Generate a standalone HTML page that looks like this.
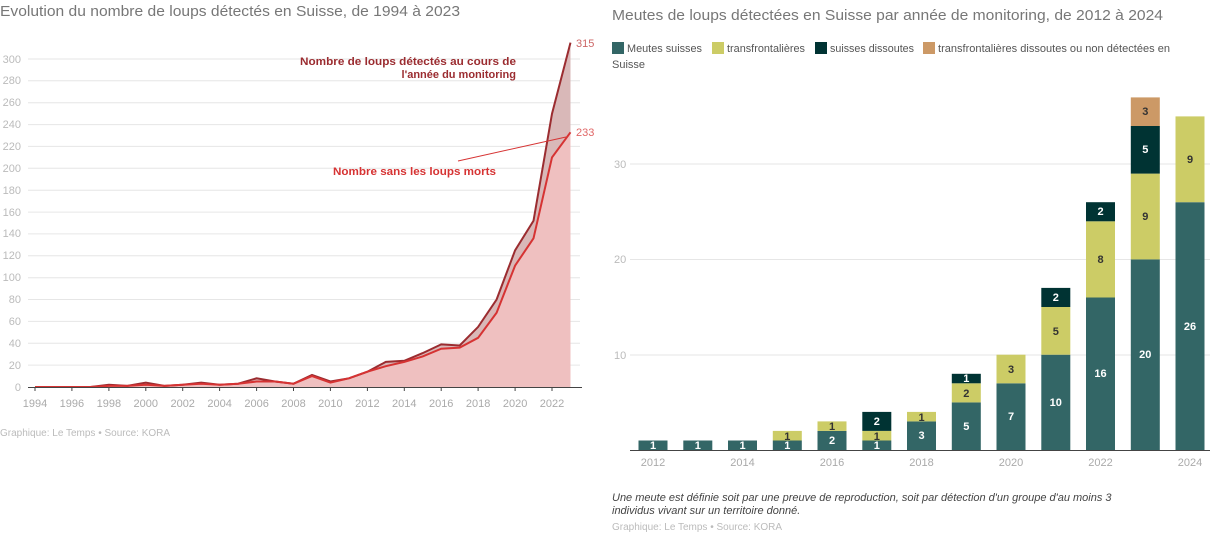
<!DOCTYPE html><html><head><meta charset="utf-8"><style>
body{margin:0;background:#fff;width:1232px;height:551px;overflow:hidden;font-family:"Liberation Sans",sans-serif}
</style></head><body>
<svg width="1232" height="551" xmlns="http://www.w3.org/2000/svg" font-family="Liberation Sans, sans-serif">
<text x="0" y="16" font-size="15" fill="#777" textLength="460" lengthAdjust="spacingAndGlyphs">Evolution du nombre de loups détectés en Suisse, de 1994 à 2023</text>
<g stroke="#e6e6e6" stroke-width="1">
<line x1="28" x2="580" y1="365.1" y2="365.1"/><line x1="28" x2="580" y1="343.3" y2="343.3"/><line x1="28" x2="580" y1="321.4" y2="321.4"/><line x1="28" x2="580" y1="299.5" y2="299.5"/><line x1="28" x2="580" y1="277.7" y2="277.7"/><line x1="28" x2="580" y1="255.8" y2="255.8"/><line x1="28" x2="580" y1="233.9" y2="233.9"/><line x1="28" x2="580" y1="212.1" y2="212.1"/><line x1="28" x2="580" y1="190.2" y2="190.2"/><line x1="28" x2="580" y1="168.3" y2="168.3"/><line x1="28" x2="580" y1="146.4" y2="146.4"/><line x1="28" x2="580" y1="124.6" y2="124.6"/><line x1="28" x2="580" y1="102.7" y2="102.7"/><line x1="28" x2="580" y1="80.8" y2="80.8"/><line x1="28" x2="580" y1="59" y2="59"/>
</g>
<g font-size="11" fill="#bbb" text-anchor="end">
<text x="21" y="391">0</text><text x="21" y="369">20</text><text x="21" y="347">40</text><text x="21" y="325">60</text><text x="21" y="303">80</text><text x="21" y="281">100</text><text x="21" y="259">120</text><text x="21" y="237">140</text><text x="21" y="216">160</text><text x="21" y="194">180</text><text x="21" y="172">200</text><text x="21" y="150">220</text><text x="21" y="128">240</text><text x="21" y="106">260</text><text x="21" y="84">280</text><text x="21" y="63">300</text>
</g>
<polygon fill="#d9b8b8" points="35,387 53.5,387 71.9,387 90.4,387 108.9,384.8 127.3,385.9 145.8,382.6 164.3,385.9 182.7,384.8 201.2,382.6 219.6,384.8 238.1,383.7 256.6,378.3 275,381.5 293.5,383.7 312,375 330.4,381.5 348.9,378.3 367.4,371.7 385.8,361.9 404.3,360.8 422.7,353.1 441.2,344.4 459.7,345.5 478.1,326.9 496.6,299.5 515.1,250.3 533.5,220.8 552,113.7 570.5,42.6 570.5,387"/>
<polygon fill="#efc0c0" points="35,387 53.5,387 71.9,387 90.4,387 108.9,385.9 127.3,385.9 145.8,384.8 164.3,385.9 182.7,384.8 201.2,383.7 219.6,384.8 238.1,383.7 256.6,381.5 275,381.5 293.5,383.7 312,376.1 330.4,382.6 348.9,378.3 367.4,371.7 385.8,366.2 404.3,361.9 422.7,356.4 441.2,348.7 459.7,347.6 478.1,337.8 496.6,312.7 515.1,265.6 533.5,238.3 552,157.4 570.5,132.3 570.5,387"/>
<polyline fill="none" stroke="#9b2c30" stroke-width="2" points="35,387 53.5,387 71.9,387 90.4,387 108.9,384.8 127.3,385.9 145.8,382.6 164.3,385.9 182.7,384.8 201.2,382.6 219.6,384.8 238.1,383.7 256.6,378.3 275,381.5 293.5,383.7 312,375 330.4,381.5 348.9,378.3 367.4,371.7 385.8,361.9 404.3,360.8 422.7,353.1 441.2,344.4 459.7,345.5 478.1,326.9 496.6,299.5 515.1,250.3 533.5,220.8 552,113.7 570.5,42.6"/>
<polyline fill="none" stroke="#d63333" stroke-width="2" points="35,387 53.5,387 71.9,387 90.4,387 108.9,385.9 127.3,385.9 145.8,384.8 164.3,385.9 182.7,384.8 201.2,383.7 219.6,384.8 238.1,383.7 256.6,381.5 275,381.5 293.5,383.7 312,376.1 330.4,382.6 348.9,378.3 367.4,371.7 385.8,366.2 404.3,361.9 422.7,356.4 441.2,348.7 459.7,347.6 478.1,337.8 496.6,312.7 515.1,265.6 533.5,238.3 552,157.4 570.5,132.3"/>
<line x1="28" x2="582" y1="387.5" y2="387.5" stroke="#444" stroke-width="1"/>
<g stroke="#444"><line x1="35" x2="35" y1="387" y2="391"/><line x1="71.9" x2="71.9" y1="387" y2="391"/><line x1="108.9" x2="108.9" y1="387" y2="391"/><line x1="145.8" x2="145.8" y1="387" y2="391"/><line x1="182.7" x2="182.7" y1="387" y2="391"/><line x1="219.6" x2="219.6" y1="387" y2="391"/><line x1="256.6" x2="256.6" y1="387" y2="391"/><line x1="293.5" x2="293.5" y1="387" y2="391"/><line x1="330.4" x2="330.4" y1="387" y2="391"/><line x1="367.4" x2="367.4" y1="387" y2="391"/><line x1="404.3" x2="404.3" y1="387" y2="391"/><line x1="441.2" x2="441.2" y1="387" y2="391"/><line x1="478.1" x2="478.1" y1="387" y2="391"/><line x1="515.1" x2="515.1" y1="387" y2="391"/><line x1="552" x2="552" y1="387" y2="391"/></g>
<g font-size="11" fill="#aaa" text-anchor="middle">
<text x="35" y="407">1994</text><text x="71.9" y="407">1996</text><text x="108.9" y="407">1998</text><text x="145.8" y="407">2000</text><text x="182.7" y="407">2002</text><text x="219.6" y="407">2004</text><text x="256.6" y="407">2006</text><text x="293.5" y="407">2008</text><text x="330.4" y="407">2010</text><text x="367.4" y="407">2012</text><text x="404.3" y="407">2014</text><text x="441.2" y="407">2016</text><text x="478.1" y="407">2018</text><text x="515.1" y="407">2020</text><text x="552" y="407">2022</text>
</g>
<text x="576" y="47" font-size="11" fill="#c66">315</text>
<text x="576" y="136" font-size="11" fill="#e06666">233</text>
<g font-size="11" font-weight="bold">
<text x="300" y="65" fill="#9b2c30" textLength="216" lengthAdjust="spacingAndGlyphs">Nombre de loups détectés au cours de</text>
<text x="516" y="78" fill="#9b2c30" text-anchor="end">l'année du monitoring</text>
<text x="333" y="175" fill="#d63333" textLength="163" lengthAdjust="spacingAndGlyphs">Nombre sans les loups morts</text>
</g>
<line x1="458" y1="161" x2="566" y2="137" stroke="#d63333" stroke-width="1"/>
<text x="0" y="436" font-size="10" fill="#bbb">Graphique: Le Temps • Source: KORA</text>

<text x="612" y="20" font-size="15" fill="#777" textLength="551" lengthAdjust="spacingAndGlyphs">Meutes de loups détectées en Suisse par année de monitoring, de 2012 à 2024</text>
<g font-size="11" fill="#555">
<rect x="612" y="42" width="12" height="12" fill="#336666"/><text x="627" y="52" textLength="75" lengthAdjust="spacingAndGlyphs">Meutes suisses</text>
<rect x="712" y="42" width="12" height="12" fill="#cccc66"/><text x="727" y="52" textLength="78" lengthAdjust="spacingAndGlyphs">transfrontalières</text>
<rect x="815" y="42" width="12" height="12" fill="#003333"/><text x="830" y="52" textLength="84" lengthAdjust="spacingAndGlyphs">suisses dissoutes</text>
<rect x="923" y="42" width="12" height="12" fill="#cc9966"/><text x="938" y="52" textLength="232" lengthAdjust="spacingAndGlyphs">transfrontalières dissoutes ou non détectées en</text>
<text x="612" y="68">Suisse</text>
</g>
<g stroke="#e6e6e6"><line x1="630" x2="1210" y1="355" y2="355"/><line x1="630" x2="1210" y1="259.5" y2="259.5"/><line x1="630" x2="1210" y1="164" y2="164"/></g>
<g font-size="11" fill="#bbb"><text x="614" y="359">10</text><text x="614" y="263">20</text><text x="614" y="168">30</text></g>
<g>
<rect x="638.5" y="440.5" width="29" height="9.5" fill="#336666"/>
<rect x="683.3" y="440.5" width="29" height="9.5" fill="#336666"/>
<rect x="728" y="440.5" width="29" height="9.5" fill="#336666"/>
<rect x="772.8" y="440.5" width="29" height="9.5" fill="#336666"/><rect x="772.8" y="430.9" width="29" height="9.6" fill="#cccc66"/>
<rect x="817.5" y="430.9" width="29" height="19.1" fill="#336666"/><rect x="817.5" y="421.4" width="29" height="9.5" fill="#cccc66"/>
<rect x="862.3" y="440.5" width="29" height="9.5" fill="#336666"/><rect x="862.3" y="430.9" width="29" height="9.6" fill="#cccc66"/><rect x="862.3" y="411.9" width="29" height="19" fill="#003333"/>
<rect x="907" y="421.4" width="29" height="28.6" fill="#336666"/><rect x="907" y="411.9" width="29" height="9.5" fill="#cccc66"/>
<rect x="951.8" y="402.4" width="29" height="47.6" fill="#336666"/><rect x="951.8" y="383.3" width="29" height="19.1" fill="#cccc66"/><rect x="951.8" y="373.8" width="29" height="9.5" fill="#003333"/>
<rect x="996.5" y="383.3" width="29" height="66.7" fill="#336666"/><rect x="996.5" y="354.7" width="29" height="28.6" fill="#cccc66"/>
<rect x="1041.3" y="354.7" width="29" height="95.3" fill="#336666"/><rect x="1041.3" y="307" width="29" height="47.7" fill="#cccc66"/><rect x="1041.3" y="287.9" width="29" height="19.1" fill="#003333"/>
<rect x="1086" y="297.5" width="29" height="152.5" fill="#336666"/><rect x="1086" y="221.3" width="29" height="76.2" fill="#cccc66"/><rect x="1086" y="202.2" width="29" height="19.1" fill="#003333"/>
<rect x="1130.8" y="259.4" width="29" height="190.6" fill="#336666"/><rect x="1130.8" y="173.6" width="29" height="85.8" fill="#cccc66"/><rect x="1130.8" y="126" width="29" height="47.6" fill="#003333"/><rect x="1130.8" y="97.4" width="29" height="28.6" fill="#cc9966"/>
<rect x="1175.5" y="202.2" width="29" height="247.8" fill="#336666"/><rect x="1175.5" y="116.4" width="29" height="85.8" fill="#cccc66"/>
</g>
<g font-size="11" font-weight="bold" text-anchor="middle" fill="#fff">
<text x="653" y="449">1</text><text x="697.8" y="449">1</text><text x="742.5" y="449">1</text><text x="787.3" y="449">1</text>
<text x="832" y="444">2</text><text x="876.8" y="449">1</text><text x="876.8" y="425">2</text>
<text x="921.5" y="439">3</text><text x="966.3" y="430">5</text><text x="966.3" y="382">1</text>
<text x="1011" y="420">7</text><text x="1055.8" y="406">10</text><text x="1055.8" y="301">2</text>
<text x="1100.5" y="377">16</text><text x="1100.5" y="215">2</text>
<text x="1145.3" y="358">20</text><text x="1145.3" y="153">5</text>
<text x="1190" y="330">26</text>
</g>
<g font-size="11" font-weight="bold" text-anchor="middle" fill="#333">
<text x="787.3" y="440">1</text><text x="832" y="430">1</text><text x="876.8" y="440">1</text><text x="921.5" y="421">1</text>
<text x="966.3" y="397">2</text><text x="1011" y="373">3</text><text x="1055.8" y="335">5</text>
<text x="1100.5" y="263">8</text><text x="1145.3" y="220">9</text><text x="1145.3" y="115">3</text><text x="1190" y="163">9</text>
</g>
<line x1="630" x2="1210" y1="450.5" y2="450.5" stroke="#444"/>
<g font-size="11" fill="#aaa" text-anchor="middle">
<text x="653" y="466">2012</text><text x="742.5" y="466">2014</text><text x="832" y="466">2016</text><text x="921.5" y="466">2018</text><text x="1011" y="466">2020</text><text x="1100.5" y="466">2022</text><text x="1190" y="466">2024</text>
</g>
<g font-size="11" font-style="italic" fill="#444">
<text x="612" y="501">Une meute est définie soit par une preuve de reproduction, soit par détection d'un groupe d'au moins 3</text>
<text x="612" y="514">individus vivant sur un territoire donné.</text>
</g>
<text x="612" y="530" font-size="10" fill="#bbb">Graphique: Le Temps • Source: KORA</text>
</svg>
</body></html>
